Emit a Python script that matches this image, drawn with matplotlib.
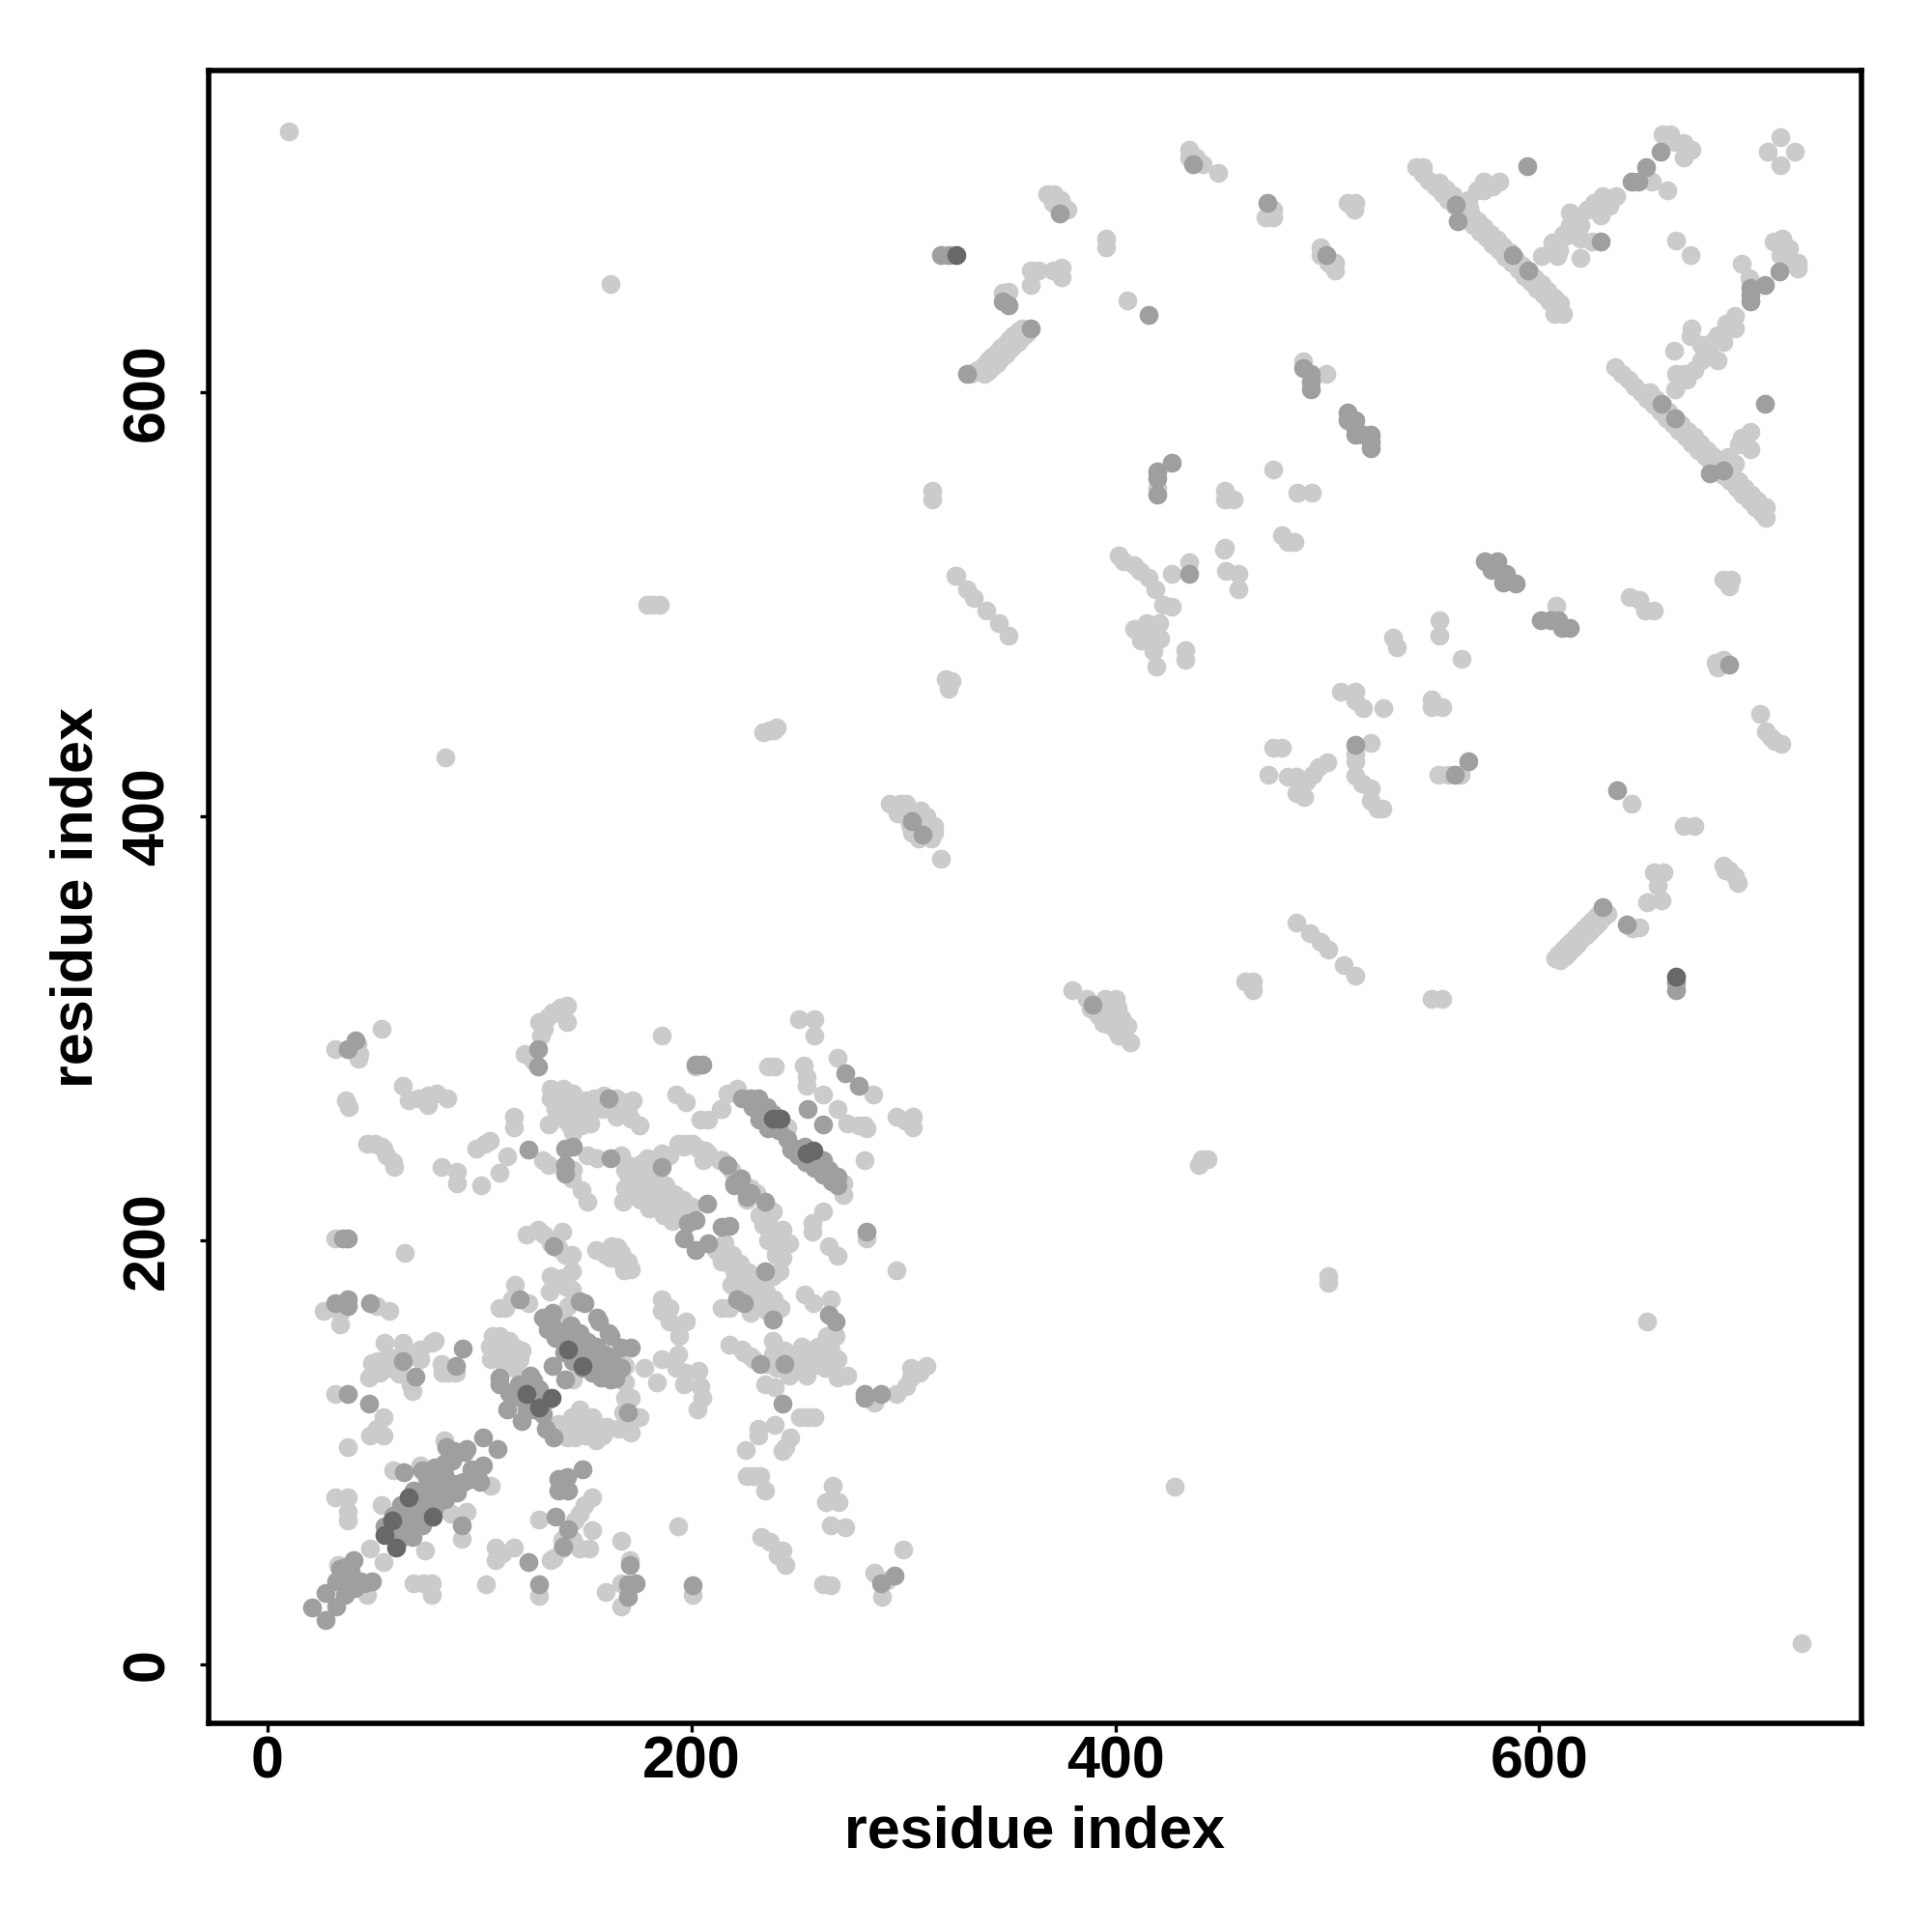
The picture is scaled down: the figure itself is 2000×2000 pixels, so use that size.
import matplotlib
matplotlib.use("Agg")
import matplotlib.pyplot as plt
import numpy as np

plt.rcParams['font.family'] = ['Liberation Sans', 'DejaVu Sans']

# (residue i, residue j) contacts, by region and shade
light_upper_right = [
(332,609),(334,610),(336,611),(338,613),(340,615),(342,617),(344,619),(346,621),(348,623),(350,625),(352,627),(354,629),(356,630),
(338,609),(340,610),(342,612),(344,614),(346,616),(348,618),(350,620),(352,622),(354,624),(356,626),(358,628),
(346.7,647),(349.7,647.7),(360,657.6),(363.7,657.6),(360,650.7),(370.5,657.6),(374.8,658.8),(374.8,654.5),
(368,693.6),(371,693.6),(370.5,689.5),(373.5,686.4),(377.3,686.4),(374.3,691),(395.6,672.7),(395.6,668.6),(405.8,643.6),
(434.6,714.5),(434.6,711),(438,711),(441,707.7),(448.4,703.4),(474.6,686.4),(470.8,682.6),(474.6,682.6),
(509.5,689.5),(513,689.5),(512.6,686.4),(496.6,668.6),(496.6,665),(503.5,661.4),(503.5,657.6),(500.4,661.4),
(488.5,614.7),(499.6,608.6),(474.6,563.7),(485.7,552.7),(492.8,552.7),(419.9,555),(451.5,553.5),(451.5,549.7),(455.6,549.7),
(313.7,553.5),(313.7,549.7),(478.7,532.7),(484.4,529.6),(481.4,529.6),(451.5,526.9),(325,513.7),
(10,723),(162,651),(84,428),(179,500),(182,500),(185,500),
(542,706.5),(545,706.5),(545,703),(548,700),(551,697),(554,694),(557,691),(560,688),(563,685),(566,682),(569,679),(572,676),(575,673),(578,670),(581,667),(584,664),(587,661),(590,658),(593,655),(596,652),(599,649),(602,646),(605,643),(608,640),(611,637),(607,637),
(553,699),(556,696),(559,693),(562,690),(565,687),(568,684),(571,681),(574,678),(577,675),(580,672),(583,669),(586,666),(589,663),(592,660),(595,657),(598,654),(601,651),(604,648),(607,645),(610,642),
(581,699.3),(573.6,699.3),(570.4,695.5),(566.3,691),(573.6,695.5),(567.1,687.2),(577.7,697),
(601.3,664.4),(608.6,664.4),(606.2,671),(611,674.3),(614.3,685),(619.2,663.6),(625,671.3),(614.3,678.8),(619.2,678.8),(622.5,686.4),(625.7,689.5),(629.8,692.5),(636.3,692.5),(629,683.4),(633,688),(619.2,672.8),(616,683.4),(612.7,674),(609.5,667),
(653,699.6),(660.4,695.5),(658.3,721.7),(661.6,721.7),(660,718.3),(664,718.3),(668,717.6),(668,710.7),(672,714.5),(669.7,713.8),
(713.6,720.6),(707.6,713.8),(720.5,713.8),(713.6,707.4),(664.5,671.7),(671.3,664.7),(695.4,660.9),(699,653.8),
(710.4,671.2),(714.5,672.7),(717.7,668.2),(713.6,665),(721.8,661.4),(721.8,658.3),(716.9,662.1),
(692.5,636.3),(692.5,630),(688.4,632.5),(684.3,627),(681,623.4),(684.3,615),(680.3,618),(676.2,622.6),(672,630),(671.3,626.4),(663.5,619.6),(676.2,615),(673,610.5),(668,609),(664.5,609),(664,601.3),(669.7,606),(686.8,624),(678.6,619.6),(690,633),
(636,612),(639,609),(642,606),(645,603),(648,600),(651,597),(654,594),(657,591),(660,588),(663,585),(666,582),(669,579),(672,576),(675,573),(678,570),(681,567),(684,564),(687,561),(690,558),(693,555),(696,552),(699,549),(702,546),(705,543),(707,541),(707,546),
(652,600),(655,597),(658,594),(661,591),(664,588),(667,585),(670,582),(673,579),(676,576),(679,573),(682,570),(685,567),(688,564),(691,561),(694,558),(697,555),(700,552),(703,549),
(699.5,581.6),(699.5,573.2),(694.1,575.5),(689.2,569.4),(692.5,566.4),(695.7,578.6),
]
light_middle = [
(324.4,513.4),(330,507),(333,503),(339,497),(345,491.3),(349.4,485.5),(319.8,465),(322.7,464),(321.5,460),
(401.7,523),(404,520.3),(408.7,518.6),(411.6,515.7),(415.7,512.8),(419,507),(422.7,500),(409,488.4),(413.6,486.6),(417.7,482.6),(414.8,491),(420.6,491),(426.4,498.8),(426.4,514.5),(435,520),(419.2,470.9),(433,473.8),(433,478.5),
(412,483),(416,488),(418,478),(421,484),
(451,526),(452.3,515.7),(458,514.5),(458,507),(530.8,484.3),(532.6,479.7),
(642.4,503.5),(647,502.3),(650,497),(654,497),(608,499.4),(686.6,511.6),(690.7,511.6),(689.5,508.7),(683.1,472.7),(686.6,473.8),(684.3,470.3),
(553,492.4),(553,485.5),(563.4,474.4),(506.4,458.7),(513.3,458.7),(513.3,454.7),(516.9,451.2),(526.2,451.2),(549.4,455.2),(549.4,451.7),(554,451.7),
(474.4,432.6),(478.5,432.6),(472,419.8),(481.4,418.6),(485.5,418.6),(490,416.3),(493,419.8),(496,423.3),(500,425.6),(489,409.3),(485.5,411),(520.3,434.9),(513.4,429.7),(513.4,426),(513.4,419),(516.3,415.7),(520.3,413.4),(523.8,403.5),(520.3,407.5),(526,403.5),
(552.3,419.8),(557,419.8),(562.8,419.8),(643.6,405.8),(668,395.3),(673.3,395.3),
(704,448.3),(707,440),(709.3,437.2),(714,434.3),(711,435.8),(654,373.8),(658.7,373.8),(655.8,367.4),(650.6,359.3),(657.6,360.5),
(686.6,376.7),(689.5,374.4),(692.4,372),(693.6,368.6),(687.8,374.4),
(607.6,333),(609,335),(611,337),(613,339),(615,341),(617,343),(619,345),(621,347),(623,349),(625,351),(627,353),(629,355),(610,332),(612,334),(614,336),(616,338),(618,340),(620,342),(622,344),(624,346),(626,348),(628,350),(630,352),(632,354),
(647,347.7),(644,347),(485.5,350),(491.9,344.8),(497,341),(500.6,337.2),(507.6,330),(513.4,325),(461,322),(465,322),(465,318),(549.4,314),(554,314),
(500.6,183),(500.6,180),(650.6,161.6),(723.8,9.9),(428,83.7),(440.7,238.4),(443.6,238.4),(439.5,235.5),(237.2,440.7),(240,441.9),(238.9,440.7),(234,439.5),
(293.6,405.8),(298.3,405.8),(301.2,405.8),(297,401.2),(301.2,400),(307,400),(307,395.3),(311,396.5),(314.5,395.3),(304,392.4),(310,392.4),(313,389.5),(317.8,380),(314.5,392.4),(307,389.5),
(303,396),(308,403),(311,400),
(379.7,318),(386.6,314),(391.3,311),(395.3,314),(400,314),(397,308),(402.9,305),(405.8,301.2),(407,293.6),(400,299.4),(394.2,302.3),(388.4,309.3),(401.7,296.5),
(392,306),(396,302),(401,310),(399,304),(404,300),
]
light_lower_left = [
(33.3,47),(54.5,48),(48.5,54.6),(47,32.8),(74.3,53.5),(94,72),(53.8,75.3),(59.1,91.7),(72,93.8),(83.4,105.8),(105.4,84),(91.8,59),(86.4,71),
(31.8,290.1),(42.4,292.3),(43.2,288),(42.7,285.8),(53.8,300),(37,266.1),(38.3,262.9),
(63.7,272.7),(66.7,266.1),(75.8,268.3),(75.8,264),(79.6,269.4),(84.9,266.8),(71.3,267.2),
(47,245.4),(50.8,245.4),(54.5,243.3),(56,240),(59.9,234.5),(53.8,244.3),(59.1,236.7),(81.9,234.5),(89.2,232.3),(89.2,226.9),
(100.9,225.8),(109.2,231.9),(113,239.5),(98.6,243.3),(102.4,245.4),(104.7,247),(116.1,258.5),(116.1,253.1),(129.8,237.8),(132.8,235.6),
(121.4,288),(125.2,284.7),(129,296.7),(128.2,303.2),(132,305.4),(134.3,307.6),(138,309.8),(141.1,310.9),(141.1,303.2),(130.5,300),(136.6,307.6),(186,296.7),(202,281.9),
(133.5,271.6),(139.6,271.6),(133.5,267.2),(144.2,269.4),(150.3,266.1),(154,267.2),(151.8,259.6),(144.2,261.8),(139.6,257.4),(132.8,254.8),(142.7,254.2),(144.2,250.9),(164.7,267.2),(168.5,265),(172.3,266.1),(171.5,257.4),(175.3,254.2),(164.7,258.5),(151,264),(158.6,268.3),
(136,262),(140,265),(146,258),(148,254),(152,255),(158,262),(162,263),(170,262),
(192.8,269),(197.4,265.1),(204.2,256.8),(208,256.8),(213.8,261.8),(151,240),(155.6,238.9),(144.2,233.4),(148,223.6),(151,218.2),(143.4,229.1),
(167,240),(168.5,233.4),(170,235.6),(173,231.3),(176.1,229.1),(178.4,224.7),(182.2,221.4),(185.2,219.3),(189.8,216),(194.3,213.8),(167.7,218.2),(168.5,224.7),(186,241.1),(189.8,240),(182.2,237.8),(198.9,245.4),(193.6,245.4),(203.4,243.3),(208,241.1),(213.3,237.8),(205.7,237.8),(179.1,238.9),(196.6,244.3),
(170,231),(172,228),(175,225),(178,221),(181,218),(184,215),(187,212),(191,209),(176,236),(180,233),(184,229),(188,226),(192,222),(196,219),(200,216),(172,222),(176,219),(180,215),
(217.1,269.4),(221.7,271.6),(214.1,237.8),(218.6,233.4),(226.2,219.3),(215.6,198.5),(211,196.4),(214.1,189.8),(220.1,181),(224.7,176.7),(214.1,168),(227.8,165.8),
(212,195),(216,190),(220,186),(224,182),(228,178),(232,174),(236,170),(215,198),(219,193),(223,189),(227,185),(231,180),(235,176),(239,172),
(232,212),(236,208),(240,203),(244,199),(243,192),(236,200),(240,195),
(122.2,202.9),(127.5,205.1),(130.5,202.9),(138.9,204),(143.4,193.1),(133.5,198.5),(137.4,196.4),(140.4,193.1),
(154.8,195.3),(162.4,197.4),(167,194.2),(167,189.8),(171.5,186.1),(159.4,193.1),(162,192),(165,197),(170,190),(168,186),(31.8,200.7),(64.9,194.2),
(26.4,166.9),(34,160.4),(51.5,169.1),(57.6,166.9),(34,165.8),(55.3,151.6),(63.7,151.6),(63.7,147.3),(72,148.4),(77.3,151.6),(78.9,152.7),(54.5,141.8),(50,139.6),(47.7,135.3),(57.6,139.6),(68.2,128.7),(72,144),(53,137.5),(67.5,132),
(52,143),(60,142),(66,145),(62,137),(57,145),(49,142),
(81.9,141.8),(82.6,137.5),(88.7,137.5),(85,137.5),(31.8,127.7),(54.5,116.7),(51.5,111.3),(48.5,108),(54.5,108),(37.8,102.6),
(116.8,178.9),(109.2,168),(112.3,168),(115.3,172.4),(122.9,170.2),(106.2,154.9),(109.2,154.9),(113.8,152.7),(116.8,149.5),(105.4,144),(110.8,142.9),(119.1,144),(116,139.6),
(110,148),(115,147),(105,150),(120,148),
(143.4,185.4),(133.5,183.3),(138.9,182.2),(143.4,176.7),(135,178.9),(137,180),(141,178),(133,176),(144.2,134.2),(138.9,163.6),(141.9,169.1),
(137.4,113.5),(143.4,116.7),(147.2,111.3),(154.8,109.1),(154.8,105.8),(141.1,106.9),(144.9,106.9),(153.3,116.7),(147.2,120),
(155,113),(160,112),(150,108),(158,108),(140,112),(150,116),
(168.5,140.7),(168.5,133.1),(177.6,139.6),(183.7,133.1),(186,144),(168.5,125.5),(171.5,125.5),(175.3,116.7),(165.5,111.3),(171.5,109.1),(167.7,118.9),(168.5,113.5),
(186,172.4),(189.8,168),(197.4,161.5),(189.8,161.5),(194.3,154.9),(186,166.9),(193.6,146.2),(192.8,139.6),(197.4,137.5),(203.4,138.5),(204.2,131),(205,125.5),(202.7,120),(196.6,132),
(217.9,150.6),(224.7,147.3),(229.3,144),(153.3,78.6),(149.5,75.3),(147.2,71),(144.9,67.7),(128.2,68.3),(135,50.2),(138.9,54.6),(147.2,54.6),(151.8,54.6),(153.3,63.3),(133.5,49.1),(138.9,58.9),(144.2,58.9),
(193.9,65),(167,58.3),(170.8,49.1),(107.7,55),(116,55),(107.7,49.1),(110.8,52.4),(69,38.2),(77.3,38.2),(77.3,32.8),(73.5,38.2),(102.9,37.8),(127.9,32.4),(159.4,33.9),(167,38.2),(167,27.3),(200.7,32.8),
(31.8,78.6),(37.8,78.6),(37.8,72),(37.8,67.7),
(236.1,282),(239.1,282),(250.5,304.3),(258.1,304.3),(258.1,296.7),(252.8,282.5),(254.3,277),(254.3,272.7),(261.9,269),(268.8,286.2),(285.9,269),
(268.8,261.8),(273.3,255.2),(278.7,254.2),(282.4,253),(281.7,254.2),(296.9,258.5),(304.5,258.5),(304.5,253.1),(300.7,256.3),(281.7,237.8),
(245.2,253.1),(271.8,226.9),(271.8,221.4),(261.9,213.8),(256.9,208.4),(256.9,204),(265,197.4),(268.8,192.7),(282.4,200.7),(296.9,185.9),(214.1,261.8),
(227.8,224.7),(230.8,222.5),(238.4,213.8),(233.8,207.3),(243,205.1),(246,198.5),(242.2,198.5),(239.9,193.1),(241.4,185.4),(238.4,183.3),(227.8,181.1),
(226.2,176.7),(232.3,172.4),(242.2,168),(235.4,166.9),(217.9,168),(220.2,185.4),(218.6,178.9),
(238.4,152.7),(238.4,146.2),(250.5,141.8),(254.3,136.4),(258.1,148.4),(265.7,148.4),(268.8,144),(268.8,135.3),(273.3,136.4),(265,154.9),(253.6,174.5),(257.4,170.2),(265.7,172.4),(268,154.9),
(240,140),(244,148),(248,146),(254,144),(258,141),(262,147),(263,140),(246,136),(260,150),(252,150),(264,155),
(224,148.4),(227.8,145.1),(235.4,141.8),(234.6,132),(239.1,130.5),(251.3,116.7),(258.1,116.7),(254.3,116.7),(231.6,111.3),(239.1,112.8),(231.6,108),(246.7,106.9),(243,100.4),(244.5,102.6),(225.8,101),
(226.2,88.8),(232.3,88.8),(234.6,81.8),(229.3,88.8),(266.8,84),(263.5,76.4),(269.5,76.4),(265.7,65.5),(272.6,64.4),(233.1,60),(236.9,57.9),(243,53.5),(244.5,47),(240.7,51.3),
(261.9,37.8),(265.7,37.1),(299.9,54),(286.2,43),(290,31.7),(292.3,39.4),(286.2,123.3),(296.9,127.7),(301.4,131),(303.7,139.6),(310.6,140.7),(303.7,135.3),(307.5,137.5),
(195.8,245.4),(200.4,245.4),(206.5,242.2),(214.1,237.8),
]
mid_upper = [
(317.6,664.7),(321.3,664.7),(330,609),(360,630),(347,643),(349.7,641),(373.5,684.5),(415.5,636.6),(436.6,707.7),(471.5,689.5),
(499.6,665),(488.5,611.7),(492.4,608.6),(492.4,605),(492.4,601.6),
(509.5,590.7),(509.5,586.9),(513.3,587),(513.3,583),(513.3,580),(517,580),(520.6,580),(520.6,577),(520.6,573.7),
(419.9,562.6),(419.9,559.6),(419.9,552),(426.7,566.7),
(594.5,706.6),(560.6,688.7),(561.4,681),(587.5,664.7),(594.8,657.6),(629,671.3),
(643.6,699.6),(646.9,699.6),(650.2,706.5),(657.2,713.5),(699.8,649.2),(699.8,646),(699.8,643),(706.6,650.7),(713.3,657.1),
(657.5,594.5),(664,587.7),(686.8,563.4),(680.3,561.8),(706.3,594.5),
(435,514.5),(574.4,520.3),(580.2,520.3),(577.3,516.3),(584.3,514.5),(589,509.9),(583.1,510.5),
(600.6,492.4),(605.2,492.4),(610.5,489),(614.5,489),(608.7,492.4),(689.5,471.5),
(513.4,433.7),(559.9,419.8),(566.3,426.2),(636.6,412.2),(630,357),(641.3,348.8),
(664.5,321.5),(664.5,318),(304,398),(309,391.5),(389,311),
]
mid_lower = [
(21.1,26.9),(27.2,20.8),(27.2,33.4),(32.5,27.3),(32.5,39.3),(36.3,32.8),(37.1,45.9),(40.6,49.1),(35.6,41.5),(37.8,36),(43.9,39.3),(49.2,39.3),(45.4,38.2),(40.9,36),(34,44.8),(39.4,43.7),
(59.1,69.9),(65.2,72),(62.1,58.9),(68.2,60),(72.8,65.5),(69.7,77.5),(75.8,78.6),(78.9,82.9),(83.4,89.5),(72.8,71),(78.9,74.2),(68.2,66.6),(64.4,90.6),(72.8,91.7),(78.9,92.8),(85,80.8),(89.5,80.8),(92.5,86.2),(95.6,87.3),(101.6,93.8),(94,101.5),(88,100.4),(84.2,102.6),(101.6,106.9),(108.5,101.5),(83.4,94.9),(79.6,86.2),(74.3,82.9),(100.1,86.2),(91.8,65.5),
(55,65),(60,62),(64,68),(70,70),(75,75),(82,80),(87,85),(66,62),(72,68),(78,72),(84,78),(90,85),(96,92),(63,75),(69,82),(75,88),(81,90),(87,96),(93,100),
(37.8,290.1),(41.6,294.5),(122.9,242.8),(127.5,290.1),(127.5,281.9),(205,283),(160.9,267.2),(140.4,243.3),(144.2,244.3),(140.4,235.6),(140.4,231.3),(161.7,238.9),(186,234.5),
(196.6,200.7),(201.9,209.4),(207.2,217.1),(201.9,195.3),(208,198.5),(214.1,206.2),(217.9,206.8),(198.1,208.4),
(224,267.2),(223.2,229.1),(217.1,235.6),(220.1,225.8),(227.8,222.5),(135,197.4),(37.8,200.7),(35.6,200.7),
(31.8,170.2),(37.8,172.4),(37.8,169.1),(48.5,170.2),(63.7,142.9),(69.7,135.7),(92.1,149),(88.7,140.7),(37.8,127.7),(47.7,122.9),
(119.1,172.4),(109.2,135.3),(109.2,132),(118.4,132),(125.2,133.8),(119.9,125.5),(113,120),(119.9,114.6),(126,120),(134.3,140.7),(140.4,134.2),
(116,126),(122,120),(128,130),(132,125),(124,136),(130,118),(114,128),
(129.8,163.6),(133.5,161.5),(136.6,157.1),(134.3,165.8),(141.9,150.6),(144.2,152.7),(148.7,139.6),(153.3,137.5),(157.1,135.3),(161.7,134.2),(149.5,170.2),(155.6,163.6),(161.7,155),(167,149.5),(147.2,171.3),(160.9,156),(156.3,161.5),(171.5,149.5),(153.3,141.8),
(132,158),(136,154),(140,147),(144,143),(148,147),(152,143),(156,139),(160,137),(164,135),(143,160),(147,156),(151,152),(155,150),(159,146),(163,142),(167,140),
(135,106.9),(131.3,111.3),(170,118.9),(137.4,87.3),(137.4,81.8),(141.1,88.4),(141.9,81.8),(148.7,92.1),(135.8,69.8),(141.9,63.8),(139.6,55.7),
(170.8,47),(122.9,48),(127.9,37.8),(170,37.8),(173.8,38.2),(170,31.7),(200.7,37.1),
(202,283),(254.8,261.8),(261.9,254.8),(272.6,278.8),(278.7,272.7),
(227.8,267.2),(231.6,267.2),(235.4,262.9),(238.4,259.6),(249,243.3),(253.6,244.3),(262,237.8),(265,233.4),(268.8,230.2),
(229,263),(233,260),(237,256),(241,252),(245,248),(250,240),(254,237),(258,234),(262,231),(266,228),(269,226),(232,257),(236,253),(247,243),(255,240),
(282.4,204),(223.2,229.1),(220.2,226.9),(226.2,220.3),(234.6,218.2),(234.6,185.4),(238.4,162.6),(221.7,172.4),(224.7,170.2),
(243.7,141.8),(268,161.5),(265,164.7),(232.3,141.8),(243,122.9),(289.3,38.2),(295.7,41.9),(281.7,127.7),(289.3,127.7),(281.7,125.5),
]
dark_points = [
(325,664.7),(664.5,324.4),(55,61.1),(60.6,55),(58.8,67.7),(78.1,69.8),(66.7,78.6),(133.8,125.5),(122.2,127.7),(128.2,121.1),
(141.9,148.4),(148.7,140.7),(242.2,257.4),(238.4,257.4),(257.4,242.2),(254.3,241),
]

light = np.array(light_upper_right + light_middle + light_lower_left)
mid = np.array(mid_upper + mid_lower)
dark = np.array(dark_points)
tick_values = [0, 200, 400, 600]

fig = plt.figure(figsize=(10, 10), dpi=200)
ax = fig.add_axes([216/2000, 1 - 1784/2000, (1927-216)/2000, (1784-73)/2000])
ax.scatter(light[:, 0], light[:, 1], s=50, c='#cbcbcb', linewidths=0, zorder=2)
ax.scatter(mid[:, 0], mid[:, 1], s=50, c='#9f9f9f', linewidths=0, zorder=3)
ax.scatter(dark[:, 0], dark[:, 1], s=50, c='#686868', linewidths=0, zorder=4)
ax.set_xlim(-27.8, 752)
ax.set_ylim(-27.9, 751.9)
ax.set_xticks(tick_values)
ax.set_yticks(tick_values)
ax.set_xticklabels([str(v) for v in tick_values], fontsize=22, fontweight='bold')
ax.set_yticklabels([str(v) for v in tick_values], fontsize=22, fontweight='bold', rotation=90, va='center')
ax.tick_params(axis='x', length=3.2, width=1.2, pad=1.3, color='black')
ax.tick_params(axis='y', length=3.2, width=1.2, pad=8.9, color='black')
ax.set_xlabel('residue index', fontsize=22, fontweight='bold', labelpad=5.5)
ax.set_ylabel('residue index', fontsize=22, fontweight='bold', labelpad=6.2)
for s in ax.spines.values():
    s.set_linewidth(2.0)
fig.savefig('out.png', dpi=200, facecolor='white')
